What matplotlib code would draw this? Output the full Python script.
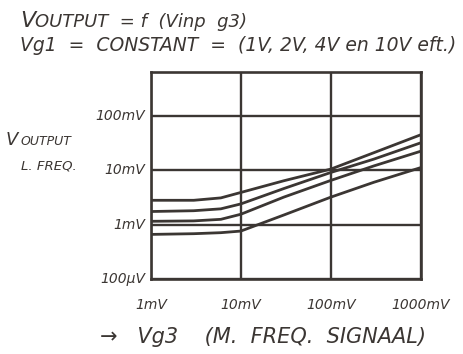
import numpy as np
import matplotlib
matplotlib.use("Agg")
import matplotlib.pyplot as plt

# input Vg3 in mV and output curves (mV), one per Vg1 setting
vg3_mv = [1, 3, 6, 10, 30, 100, 300, 1000]
out_a = [2.8, 2.8, 3.1, 3.9, 6.4, 10.5, 21, 45]
out_b = [1.74, 1.8, 1.95, 2.4, 4.6, 9.1, 16, 32]
out_c = [1.15, 1.17, 1.25, 1.55, 3.2, 6.5, 12, 22.4]
out_d = [0.66, 0.68, 0.71, 0.76, 1.5, 3.2, 6.0, 11.2]

x_ticks = [1, 10, 100, 1000]
x_labels = ["1mV", "10mV", "100mV", "1000mV"]
y_ticks = [0.1, 1, 10, 100]
y_labels = ["100µV", "1mV", "10mV", "100mV"]

ink = "#3b3633"
fnt = dict(family="DejaVu Sans", style="italic", color=ink)

fig = plt.figure(figsize=(4.64, 3.54), dpi=100)
fig.patch.set_facecolor("white")
ax = fig.add_axes([0.325, 0.212, 0.582, 0.585])

for ys in (out_a, out_b, out_c, out_d):
    ax.plot(vg3_mv, ys, color=ink, lw=2.0, solid_capstyle="round")

ax.set_xscale("log")
ax.set_yscale("log")
ax.set_xlim(1, 1000)
ax.set_ylim(0.1, 100 * 10 ** 0.81)
ax.set_xticks(x_ticks)
ax.set_yticks(y_ticks)
ax.minorticks_off()
ax.set_xticklabels([])
ax.set_yticklabels([])
ax.tick_params(length=0)
ax.grid(True, color=ink, lw=1.7)
for s in ax.spines.values():
    s.set_color(ink)
    s.set_linewidth(1.9)

# tick labels written by hand in the original
for v, lab in zip(x_ticks, x_labels):
    ax.annotate(lab, (v, 0.1), xytext=(0, -14), textcoords="offset points",
                ha="center", va="top", fontsize=10, **fnt)
for v, lab in zip(y_ticks, y_labels):
    ax.annotate(lab, (1, v), xytext=(-4, 0), textcoords="offset points",
                ha="right", va="center", fontsize=10, **fnt)

fig.text(0.043, 0.925, "V", fontsize=16, **fnt)
fig.text(0.075, 0.925, "OUTPUT  = f  (Vinp  g3)", fontsize=13, **fnt)
fig.text(0.043, 0.855, "Vg1  =  CONSTANT  =  (1V, 2V, 4V en 10V eft.)",
         fontsize=13.5, **fnt)
fig.text(0.012, 0.59, "V", fontsize=13, **fnt)
fig.text(0.045, 0.59, "OUTPUT", fontsize=9, **fnt)
fig.text(0.045, 0.522, "L. FREQ.", fontsize=9.5, **fnt)
fig.text(0.215, 0.03, "\u2192   Vg3    (M.  FREQ.  SIGNAAL)", fontsize=15, **fnt)

fig.savefig("out.png", dpi=100, facecolor="white")
